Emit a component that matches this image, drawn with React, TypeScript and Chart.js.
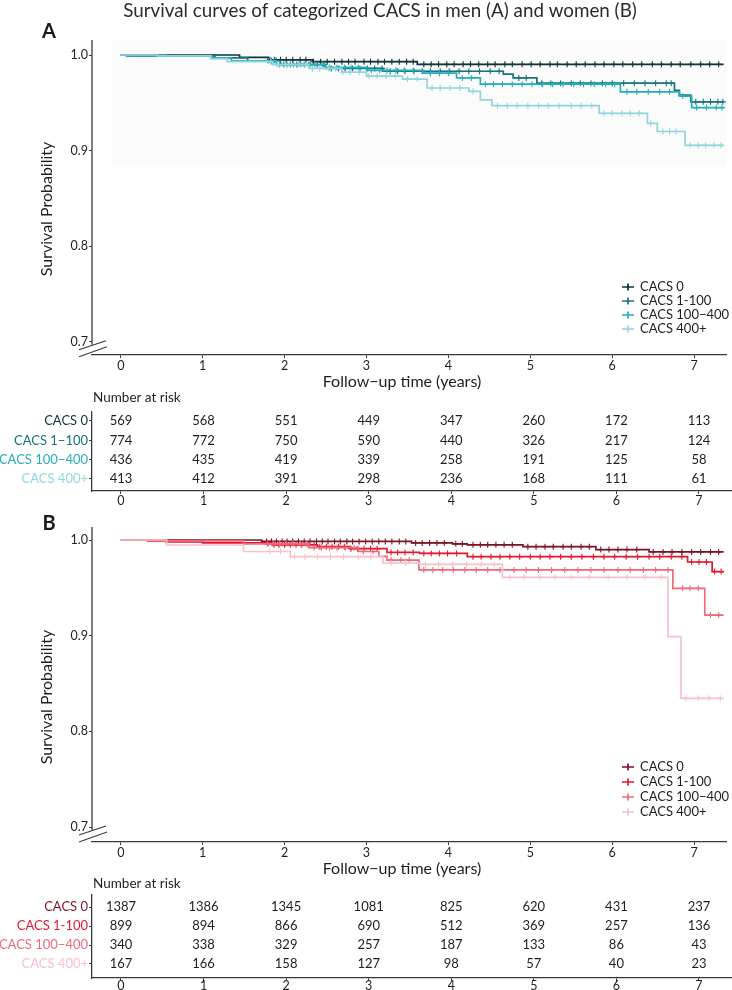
import React, { useEffect, useRef } from "react";
import { Chart, registerables } from "chart.js";
Chart.register(...registerables);

const FONT = "Lato, 'Open Sans', 'DejaVu Sans', sans-serif";
const AX = "#3a3a3a";
const TXT = "#1e1e1e";

// ---------------- data ----------------
const years = [0, 1, 2, 3, 4, 5, 6, 7];
const yTicks = [0.7, 0.8, 0.9, 1.0];

const legendLabelsA = ["CACS 0", "CACS 1-100", "CACS 100\u2212400", "CACS 400+"];
const legendLabelsB = ["CACS 0", "CACS 1-100", "CACS 100\u2212400", "CACS 400+"];
const tableLabelsA = ["CACS 0", "CACS 1\u2212100", "CACS 100\u2212400", "CACS 400+"];
const tableLabelsB = ["CACS 0", "CACS 1-100", "CACS 100\u2212400", "CACS 400+"];

const colorsA = ["#10323a", "#17747d", "#26aebd", "#93d5de"];
const colorsB = ["#7c1326", "#e2192f", "#f0697b", "#f6c2ca"];

// Men (A) – Kaplan-Meier steps (time in years, survival after the step)
const menT0 = [0, 1.45, 1.8, 2.35, 3.62];
const menS0 = [1, 0.9975, 0.995, 0.993, 0.9903];
const menT1 = [0, 0.07, 1.15, 1.55, 1.95, 2.5, 3.2, 4.67, 4.79, 5.08, 6.76, 6.82, 6.96];
const menS1 = [1, 0.999, 0.997, 0.994, 0.99, 0.986, 0.983, 0.98, 0.976, 0.9705, 0.963, 0.958, 0.951];
const menT2 = [0, 0.55, 1.1, 1.35, 1.9, 2.5, 3.0, 3.7, 4.1, 4.39, 6.1, 6.82, 6.97];
const menS2 = [1, 0.999, 0.997, 0.994, 0.99, 0.987, 0.984, 0.981, 0.976, 0.9695, 0.9615, 0.957, 0.945];
const menT3 = [0, 0.45, 1.1, 1.3, 1.85, 2.3, 2.7, 3.0, 3.44, 3.74, 4.25, 4.39, 4.53, 5.84, 6.43, 6.55, 6.89];
const menS3 = [1, 0.999, 0.996, 0.993, 0.99, 0.986, 0.982, 0.978, 0.9748, 0.9655, 0.962, 0.953, 0.947, 0.939, 0.9285, 0.92, 0.9055];
const menEnd = [7.36, 7.36, 7.36, 7.36];

// Men censoring times
const menC0 = [1.82, 1.88, 1.95, 2.02, 2.1, 2.19, 2.26, 2.35, 2.44, 2.52, 2.61, 2.7, 2.78, 2.86, 2.97, 3.05, 3.14, 3.22, 3.31, 3.4, 3.49, 3.57, 3.7, 3.79, 3.88, 3.98, 4.07, 4.18, 4.27, 4.37, 4.48, 4.57, 4.69, 4.78, 4.9, 5.01, 5.12, 5.24, 5.33, 5.45, 5.56, 5.67, 5.79, 5.9, 6.02, 6.13, 6.25, 6.36, 6.49, 6.6, 6.72, 6.83, 6.96, 7.08, 7.19, 7.3];
const menC1 = [1.84, 1.9, 1.99, 2.07, 2.15, 2.24, 2.31, 2.4, 2.48, 2.57, 2.66, 2.74, 2.83, 2.92, 3.01, 3.1, 3.19, 3.29, 3.38, 3.47, 3.58, 3.68, 3.78, 3.9, 4.01, 4.13, 4.25, 4.38, 4.51, 4.62, 4.86, 4.95, 5.14, 5.25, 5.37, 5.5, 5.61, 5.74, 5.88, 6.0, 6.14, 6.27, 6.4, 6.53, 6.66, 6.72, 7.02, 7.11, 7.2, 7.29, 7.35];
const menC2 = [1.8, 1.87, 1.94, 2.03, 2.11, 2.2, 2.29, 2.37, 2.46, 2.55, 2.64, 2.73, 2.81, 2.9, 3.06, 3.16, 3.25, 3.36, 3.46, 3.57, 3.78, 3.89, 4.0, 4.17, 4.28, 4.45, 4.55, 4.66, 4.78, 4.9, 5.02, 5.15, 5.27, 5.4, 5.53, 5.65, 5.78, 5.92, 6.03, 6.18, 6.3, 6.44, 6.58, 6.7, 6.86, 7.03, 7.15, 7.27, 7.34];
const menC3 = [1.83, 1.91, 2.0, 2.08, 2.17, 2.25, 2.34, 2.43, 2.54, 2.62, 2.71, 2.8, 2.91, 3.03, 3.13, 3.24, 3.35, 3.5, 3.62, 3.8, 3.9, 4.02, 4.14, 4.3, 4.6, 4.72, 4.84, 4.97, 5.1, 5.22, 5.35, 5.5, 5.62, 5.75, 5.9, 6.0, 6.12, 6.22, 6.33, 6.47, 6.62, 6.7, 6.78, 6.95, 7.05, 7.14, 7.24, 7.33];

// Women (B) – Kaplan-Meier steps
const womT0 = [0, 1.72, 3.55, 4.05, 4.23, 4.91, 5.8, 6.45];
const womS0 = [1, 0.9985, 0.997, 0.996, 0.995, 0.993, 0.99, 0.9875];
const womT1 = [0, 0.33, 0.55, 1.0, 1.85, 2.4, 2.8, 3.25, 3.65, 4.23, 6.92, 7.22];
const womS1 = [1, 0.999, 0.998, 0.997, 0.995, 0.993, 0.991, 0.987, 0.986, 0.9826, 0.977, 0.967];
const womT2 = [0, 0.5, 1.5, 2.3, 2.9, 3.15, 3.25, 3.64, 6.74, 7.13];
const womS2 = [1, 0.999, 0.996, 0.992, 0.988, 0.983, 0.979, 0.9687, 0.9495, 0.9216];
const womT3 = [0, 0.56, 1.5, 2.07, 3.2, 3.65, 4.66, 6.68, 6.84];
const womS3 = [1, 0.9948, 0.988, 0.9826, 0.976, 0.9745, 0.961, 0.899, 0.8346];
const womEnd = [7.36, 7.36, 7.36, 7.36];

// Women censoring times
const womC0 = [1.78, 1.84, 1.9, 1.97, 2.03, 2.1, 2.17, 2.24, 2.31, 2.39, 2.46, 2.53, 2.61, 2.68, 2.76, 2.83, 2.91, 2.99, 3.07, 3.15, 3.23, 3.31, 3.4, 3.48, 3.6, 3.68, 3.77, 3.86, 3.95, 4.09, 4.17, 4.3, 4.39, 4.48, 4.58, 4.68, 4.78, 4.97, 5.07, 5.18, 5.28, 5.4, 5.5, 5.62, 5.72, 5.86, 5.96, 6.07, 6.18, 6.3, 6.5, 6.62, 6.73, 6.85, 6.97, 7.08, 7.2, 7.3];
const womC1 = [1.8, 1.87, 1.93, 2.0, 2.07, 2.14, 2.21, 2.29, 2.36, 2.43, 2.51, 2.58, 2.66, 2.73, 2.81, 2.89, 2.97, 3.05, 3.13, 3.3, 3.38, 3.47, 3.57, 3.7, 3.79, 3.89, 3.99, 4.1, 4.3, 4.4, 4.52, 4.63, 4.75, 4.87, 5.0, 5.12, 5.24, 5.37, 5.5, 5.63, 5.77, 5.9, 6.03, 6.17, 6.31, 6.45, 6.58, 6.72, 6.85, 6.97, 7.06, 7.15, 7.25, 7.33];
const womC2 = [1.79, 1.86, 1.94, 2.02, 2.1, 2.19, 2.27, 2.36, 2.45, 2.55, 2.64, 2.74, 2.85, 2.96, 3.08, 3.3, 3.42, 3.52, 3.7, 3.81, 3.93, 4.06, 4.2, 4.34, 4.48, 4.63, 4.8, 4.95, 5.1, 5.26, 5.42, 5.58, 5.74, 5.9, 6.07, 6.22, 6.38, 6.53, 6.68, 6.86, 6.95, 7.05, 7.2, 7.3];
const womC3 = [1.82, 1.95, 2.12, 2.25, 2.4, 2.56, 2.72, 2.9, 3.05, 3.3, 3.48, 3.72, 3.88, 4.05, 4.22, 4.4, 4.56, 4.75, 4.92, 5.12, 5.3, 5.5, 5.72, 5.95, 6.18, 6.4, 6.6, 6.9, 7.05, 7.18, 7.32];

// Number at risk
const riskA0 = [569, 568, 551, 449, 347, 260, 172, 113];
const riskA1 = [774, 772, 750, 590, 440, 326, 217, 124];
const riskA2 = [436, 435, 419, 339, 258, 191, 125, 58];
const riskA3 = [413, 412, 391, 298, 236, 168, 111, 61];
const riskB0 = [1387, 1386, 1345, 1081, 825, 620, 431, 237];
const riskB1 = [899, 894, 866, 690, 512, 369, 257, 136];
const riskB2 = [340, 338, 329, 257, 187, 133, 86, 43];
const riskB3 = [167, 166, 158, 127, 98, 57, 40, 23];

const TITLE = "Survival curves of categorized CACS in men (A) and women (B)";
const X_TITLE = "Follow\u2212up time (years)";
const Y_TITLE = "Survival Probability";

// ---------------- helpers ----------------
const X_MIN = -0.351;
const X_MAX = 7.4;

type Group = { t: number[]; s: number[]; c: number[]; end: number };

function stepData(g: Group) {
  const pts = g.t.map((t, i) => ({ x: t, y: g.s[i] }));
  pts.push({ x: g.end, y: g.s[g.s.length - 1] });
  return pts;
}
function survAt(g: Group, t: number) {
  let v = g.s[0];
  for (let i = 0; i < g.t.length; i++) if (g.t[i] <= t) v = g.s[i];
  return v;
}

function xScale(h: number, pad: number) {
  return {
    type: "linear",
    min: X_MIN,
    max: X_MAX,
    afterBuildTicks: (s: any) => {
      s.ticks = years.map((v) => ({ value: v }));
    },
    afterFit: (s: any) => {
      s.height = h;
    },
    grid: { display: true, drawOnChartArea: false, drawTicks: true, tickLength: 3, color: AX, lineWidth: 1 },
    border: { display: true, color: AX, width: 1.3 },
    ticks: { font: { family: FONT, size: 12.5 }, color: TXT, padding: pad, maxRotation: 0, autoSkip: false, callback: (v: any) => String(v) },
  };
}

type PanelCfg = {
  groups: Group[];
  colors: string[];
  labels: string[];
  yMin: number;
  yMax: number;
  padTop: number;
  xAxisH: number;
  letter: string;
  letterY: number;
  title?: boolean;
  xTitleY: number;
  yTitleY: number;
  legendY: number;
  legendDy: number;
  shade?: boolean;
};

function mainPanel(canvas: HTMLCanvasElement, p: PanelCfg) {
  const datasets: any[] = [];
  p.groups.forEach((g, i) => {
    datasets.push({
      type: "line",
      label: p.labels[i],
      data: stepData(g),
      borderColor: p.colors[i],
      backgroundColor: p.colors[i],
      borderWidth: 1.7,
      stepped: "before",
      pointRadius: 0,
      fill: false,
      order: 10 - i,
    });
    datasets.push({
      type: "line",
      label: p.labels[i] + " (censored)",
      data: g.c.map((t) => ({ x: t, y: survAt(g, t) })),
      showLine: false,
      pointStyle: "cross",
      pointRadius: 3,
      pointBorderWidth: 1.1,
      pointBorderColor: p.colors[i],
      borderColor: p.colors[i],
      order: 10 - i,
    });
  });

  const decor = {
    id: "decor",
    beforeDatasetsDraw(chart: any) {
      if (!p.shade) return;
      const { ctx, chartArea } = chart;
      const xs = chart.scales.x;
      const ys = chart.scales.y;
      const x0 = xs.getPixelForValue(-0.105);
      const y1 = ys.getPixelForValue(0.883);
      ctx.save();
      ctx.fillStyle = "#fbfbfb";
      ctx.fillRect(x0, chartArea.top, chartArea.right - x0, y1 - chartArea.top);
      ctx.restore();
    },
    afterDraw(chart: any) {
      const { ctx, chartArea } = chart;
      const ys = chart.scales.y;
      const xa = chartArea.left;
      const yb = ys.getPixelForValue(0.7);
      ctx.save();
      // y axis line with break
      ctx.strokeStyle = AX;
      ctx.lineWidth = 1.3;
      ctx.beginPath();
      ctx.moveTo(xa, chartArea.top);
      ctx.lineTo(xa, yb + 3);
      ctx.stroke();
      ctx.lineWidth = 1.1;
      ctx.beginPath();
      ctx.moveTo(xa - 13, yb + 8);
      ctx.lineTo(xa + 14, yb - 1);
      ctx.moveTo(xa - 13, yb + 15);
      ctx.lineTo(xa + 15, yb + 5);
      ctx.stroke();

      // legend
      const lx = 628;
      p.labels.forEach((lab, i) => {
        const y = p.legendY + i * p.legendDy;
        ctx.strokeStyle = p.colors[i];
        ctx.lineWidth = 1.7;
        ctx.beginPath();
        ctx.moveTo(lx - 6, y);
        ctx.lineTo(lx + 6, y);
        ctx.moveTo(lx, y - 3.5);
        ctx.lineTo(lx, y + 3.5);
        ctx.stroke();
        ctx.fillStyle = TXT;
        ctx.font = `13px ${FONT}`;
        ctx.textAlign = "left";
        ctx.textBaseline = "middle";
        ctx.fillText(lab, lx + 12, y);
      });

      // texts
      if (p.title) {
        ctx.font = `18.8px ${FONT}`;
        ctx.fillStyle = "#2b2b2b";
        ctx.textAlign = "center";
        ctx.textBaseline = "middle";
        ctx.fillText(TITLE, 380, 11);
      }
      ctx.fillStyle = "#1a1a1a";
      ctx.font = `bold 20px ${FONT}`;
      ctx.textAlign = "center";
      ctx.textBaseline = "middle";
      ctx.fillText(p.letter, 49, p.letterY);

      ctx.fillStyle = TXT;
      ctx.font = `16px ${FONT}`;
      ctx.fillText(X_TITLE, 402, p.xTitleY);

      ctx.translate(47, p.yTitleY);
      ctx.rotate(-Math.PI / 2);
      ctx.fillText(Y_TITLE, 0, 0);
      ctx.restore();
    },
  };

  return new Chart(canvas, {
    type: "line",
    data: { datasets },
    options: {
      animation: false,
      responsive: false,
      events: [],
      layout: { padding: { top: p.padTop, left: 0, right: 0, bottom: 0 } },
      plugins: { legend: { display: false }, tooltip: { enabled: false } },
      scales: {
        x: xScale(p.xAxisH, 0) as any,
        y: {
          type: "linear",
          min: p.yMin,
          max: p.yMax,
          afterBuildTicks: (s: any) => {
            s.ticks = yTicks.map((v) => ({ value: v }));
          },
          afterFit: (s: any) => {
            s.width = 92;
          },
          grid: { display: true, drawOnChartArea: false, drawTicks: true, tickLength: 3, color: AX, lineWidth: 1 },
          border: { display: false },
          ticks: { font: { family: FONT, size: 12.5 }, color: TXT, padding: 1, callback: (v: any) => Number(v).toFixed(1) },
        },
      },
    },
    plugins: [decor],
  } as any);
}

type TableCfg = {
  risks: number[][];
  labels: string[];
  colors: string[];
  yMin: number;
  yMax: number;
  padTop: number;
  xAxisH: number;
  headY: number;
  tickPad: number;
};

function tablePanel(canvas: HTMLCanvasElement, p: TableCfg) {
  const datasets = p.risks.map((row, r) => ({
    type: "line",
    label: p.labels[r],
    data: years.map((t, j) => ({ x: t, y: r, n: row[j] })),
    showLine: false,
    pointRadius: 0,
  }));
  const numbers = {
    id: "numbers",
    afterDatasetsDraw(chart: any) {
      const ctx = chart.ctx;
      ctx.save();
      ctx.fillStyle = TXT;
      ctx.font = `13px ${FONT}`;
      ctx.textAlign = "center";
      ctx.textBaseline = "middle";
      chart.data.datasets.forEach((ds: any, i: number) => {
        const meta = chart.getDatasetMeta(i);
        meta.data.forEach((pt: any, j: number) => {
          ctx.fillText(String(ds.data[j].n), pt.x, pt.y);
        });
      });
      ctx.font = `13.5px ${FONT}`;
      ctx.textAlign = "left";
      ctx.fillText("Number at risk", 93, p.headY);
      ctx.restore();
    },
  };
  return new Chart(canvas, {
    type: "line",
    data: { datasets },
    options: {
      animation: false,
      responsive: false,
      events: [],
      layout: { padding: { top: p.padTop, left: 0, right: 0, bottom: 0 } },
      plugins: { legend: { display: false }, tooltip: { enabled: false } },
      scales: {
        x: xScale(p.xAxisH, p.tickPad) as any,
        y: {
          type: "linear",
          reverse: true,
          min: p.yMin,
          max: p.yMax,
          afterBuildTicks: (s: any) => {
            s.ticks = [0, 1, 2, 3].map((v) => ({ value: v }));
          },
          afterFit: (s: any) => {
            s.width = 92;
          },
          grid: { display: true, drawOnChartArea: false, drawTicks: true, tickLength: 3, color: AX, lineWidth: 1 },
          border: { display: true, color: AX, width: 1.3 },
          ticks: {
            font: { family: FONT, size: 13 },
            color: (c: any) => p.colors[c.index] || TXT,
            padding: 1,
            callback: (v: any) => p.labels[Math.round(Number(v))],
          },
        },
      },
    },
    plugins: [numbers],
  } as any);
}

export default function App() {
  const aRef = useRef<HTMLCanvasElement>(null);
  const taRef = useRef<HTMLCanvasElement>(null);
  const bRef = useRef<HTMLCanvasElement>(null);
  const tbRef = useRef<HTMLCanvasElement>(null);

  useEffect(() => {
    document.body.style.margin = "0";
    const menGroups: Group[] = [
      { t: menT0, s: menS0, c: menC0, end: menEnd[0] },
      { t: menT1, s: menS1, c: menC1, end: menEnd[1] },
      { t: menT2, s: menS2, c: menC2, end: menEnd[2] },
      { t: menT3, s: menS3, c: menC3, end: menEnd[3] },
    ];
    const womGroups: Group[] = [
      { t: womT0, s: womS0, c: womC0, end: womEnd[0] },
      { t: womT1, s: womS1, c: womC1, end: womEnd[1] },
      { t: womT2, s: womS2, c: womC2, end: womEnd[2] },
      { t: womT3, s: womS3, c: womC3, end: womEnd[3] },
    ];
    const charts = [
      mainPanel(aRef.current!, {
        groups: menGroups,
        colors: colorsA,
        labels: legendLabelsA,
        yMin: 0.6862,
        yMax: 1.0157,
        padTop: 40,
        xAxisH: 45,
        letter: "A",
        letterY: 32,
        title: true,
        xTitleY: 382,
        yTitleY: 209,
        legendY: 287,
        legendDy: 14,
        shade: true,
      }),
      tablePanel(taRef.current!, {
        risks: [riskA0, riskA1, riskA2, riskA3],
        labels: tableLabelsA,
        colors: colorsA,
        yMin: -0.4655,
        yMax: 3.621,
        padTop: 22,
        xAxisH: 19,
        headY: 8,
        tickPad: -1,
      }),
      mainPanel(bRef.current!, {
        groups: womGroups,
        colors: colorsB,
        labels: legendLabelsB,
        yMin: 0.6844,
        yMax: 1.0136,
        padTop: 22,
        xAxisH: 38,
        letter: "B",
        letterY: 19,
        xTitleY: 364,
        yTitleY: 192,
        legendY: 262,
        legendDy: 15,
      }),
      tablePanel(tbRef.current!, {
        risks: [riskB0, riskB1, riskB2, riskB3],
        labels: tableLabelsB,
        colors: colorsB,
        yMin: -0.632,
        yMax: 3.737,
        padTop: 23,
        xAxisH: 12,
        headY: 12,
        tickPad: -3,
      }),
    ];
    return () => charts.forEach((c) => c.destroy());
  }, []);

  const cs = (top: number): React.CSSProperties => ({ position: "absolute", left: 0, top, display: "block" });
  return (
    <div style={{ position: "absolute", left: 0, top: 0, width: 732, height: 990, background: "#ffffff", overflow: "hidden" }}>
      <canvas ref={aRef} width={732} height={400} style={cs(0)} />
      <canvas ref={taRef} width={732} height={120} style={cs(390)} />
      <canvas ref={bRef} width={732} height={375} style={cs(505)} />
      <canvas ref={tbRef} width={732} height={118} style={cs(872)} />
    </div>
  );
}
